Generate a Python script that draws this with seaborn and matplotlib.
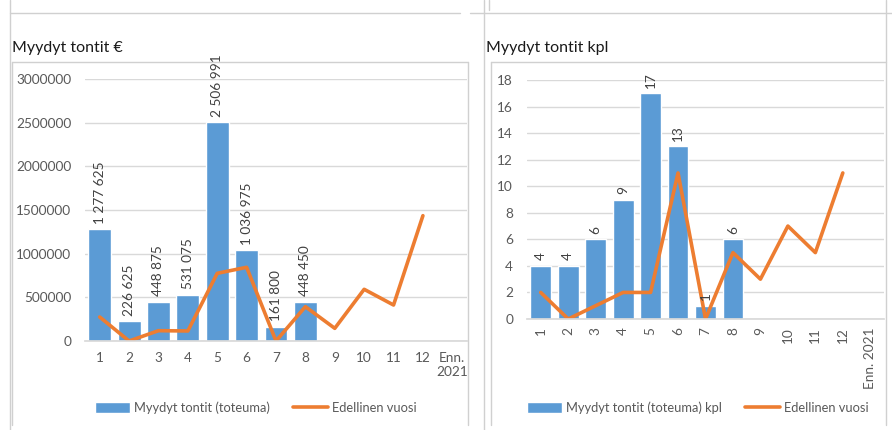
import numpy as np
import pandas as pd
import matplotlib
matplotlib.use("Agg")
import matplotlib.pyplot as plt
from matplotlib.lines import Line2D
import seaborn as sns

# ---- data ----
categories = ["1", "2", "3", "4", "5", "6", "7", "8", "9", "10", "11", "12", "Enn. 2021"]
eur_actual = [1277625, 226625, 448875, 531075, 2506991, 1036975, 161800, 448450]
eur_prev = [275000, 0, 118000, 115000, 775000, 844000, 0, 393000, 145000, 592000, 412000, 1435000]
kpl_actual = [4, 4, 6, 9, 17, 13, 1, 6]
kpl_prev = [2, 0, 1, 2, 2, 11, 0, 5, 3, 7, 5, 11]

left_title = "Myydyt tontit €"
right_title = "Myydyt tontit kpl"
left_bar_name = "Myydyt tontit (toteuma)"
right_bar_name = "Myydyt tontit (toteuma) kpl"
line_name = "Edellinen vuosi"

BAR = "#5B9BD5"
LINE = "#ED7D31"
TXT = "#595959"
GRID = "#D9D9D9"
FS = 9.8

sns.set_theme(style="white")
plt.rcParams["font.family"] = ["Lato", "DejaVu Sans"]

W, H = 892, 430
fig = plt.figure(figsize=(W / 100, H / 100), dpi=100)


def fx(px):
    return px / W


def fy(py):
    return 1 - py / H


# frame decorations (Excel dashboard look)
frame_lines = [
    ((10, 460), (13, 13)), ((470, 892), (13, 13)),
    ((10, 10), (0, 430)),
    ((12, 468), (62, 62)), ((12, 12), (62, 425)),
    ((468, 468), (62, 425)),
    ((484, 484), (0, 430)), ((489, 489), (0, 10)),
    ((491, 886), (62, 62)), ((491, 491), (62, 425)),
    ((886, 886), (0, 425)),
]
for (xs, ys) in frame_lines:
    fig.add_artist(Line2D([fx(x) for x in xs], [fy(y) for y in ys],
                          color="#D0D0D0", lw=1.0, transform=fig.transFigure))


def style_axes(ax):
    for s in ["top", "right", "left"]:
        ax.spines[s].set_visible(False)
    ax.spines["bottom"].set_color(GRID)
    ax.yaxis.grid(True, color=GRID, lw=1.0)
    ax.set_axisbelow(True)
    ax.tick_params(axis="both", length=0, colors=TXT, labelsize=FS)
    ax.set_xlabel("")
    ax.set_ylabel("")


def add_legend(ax, center_x):
    handles, labels = ax.get_legend_handles_labels()
    order = [labels.index(l) for l in labels if l != line_name] + [labels.index(line_name)]
    fig.legend([handles[i] for i in order], [labels[i] for i in order], loc="center",
               bbox_to_anchor=(fx(center_x), fy(408)), ncol=2, frameon=False,
               fontsize=9.3, handlelength=2.7, handleheight=0.9, columnspacing=1.8,
               handletextpad=0.3, labelcolor=TXT)


# ---- left chart ----
axL = fig.add_axes([fx(85), fy(341), fx(467) - fx(85), fy(79) - fy(341)])
dfL = pd.DataFrame({"cat": categories[:len(eur_actual)], "val": eur_actual})
sns.barplot(data=dfL, x="cat", y="val", order=categories, color=BAR, saturation=1,
            width=0.78, ax=axL, label=left_bar_name)
sns.lineplot(x=np.arange(len(eur_prev)), y=eur_prev, color=LINE, lw=2.6, ax=axL,
             label=line_name)
axL.set_xlim(-0.5, len(categories) - 0.5)
axL.set_ylim(0, 3000000)
axL.set_yticks(np.arange(0, 3000001, 500000))
axL.set_yticklabels([str(int(v)) for v in np.arange(0, 3000001, 500000)])
axL.set_xticks(np.arange(len(categories)))
axL.set_xticklabels([c.replace(" ", "\n") for c in categories])
style_axes(axL)
axL.tick_params(axis="x", pad=8)
axL.tick_params(axis="y", pad=10)
axL.bar_label(axL.containers[0], labels=[f"{v:,}".replace(",", " ") for v in eur_actual],
              rotation=90, padding=4, fontsize=FS, color="#404040")
axL.get_legend().remove()
add_legend(axL, 256)
fig.text(fx(12), fy(48), left_title, fontsize=11.5, color="#1a1a1a", va="center", ha="left")

# ---- right chart ----
axR = fig.add_axes([fx(527), fy(319), fx(884) - fx(527), fy(80) - fy(319)])
dfR = pd.DataFrame({"cat": categories[:len(kpl_actual)], "val": kpl_actual})
sns.barplot(data=dfR, x="cat", y="val", order=categories, color=BAR, saturation=1,
            width=0.76, ax=axR, label=right_bar_name)
sns.lineplot(x=np.arange(len(kpl_prev)), y=kpl_prev, color=LINE, lw=2.6, ax=axR,
             label=line_name)
axR.set_xlim(-0.5, len(categories) - 0.5)
axR.set_ylim(0, 18)
axR.set_yticks(np.arange(0, 19, 2))
axR.set_xticks(np.arange(len(categories)))
axR.set_xticklabels(categories, rotation=90, va="top")
style_axes(axR)
axR.tick_params(axis="x", pad=6)
axR.tick_params(axis="y", pad=10)
axR.bar_label(axR.containers[0], labels=[str(v) for v in kpl_actual],
              rotation=90, padding=4, fontsize=FS, color="#404040")
axR.get_legend().remove()
add_legend(axR, 698)
fig.text(fx(486), fy(48), right_title, fontsize=11.5, color="#1a1a1a", va="center", ha="left")

fig.savefig("out.png", dpi=100)
